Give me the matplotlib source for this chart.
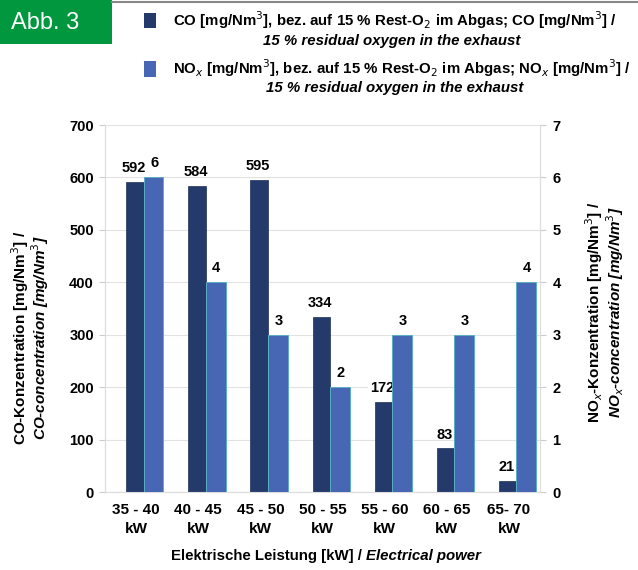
import matplotlib
matplotlib.use("Agg")
import matplotlib.pyplot as plt
from matplotlib.patches import Rectangle
import numpy as np

categories = ["35 - 40\nkW", "40 - 45\nkW", "45 - 50\nkW", "50 - 55\nkW",
              "55 - 60\nkW", "60 - 65\nkW", "65- 70\nkW"]
co_values = [592, 584, 595, 334, 172, 83, 21]
nox_values = [6, 4, 3, 2, 3, 3, 4]
left_ticks = [0, 100, 200, 300, 400, 500, 600, 700]
right_ticks = [0, 1, 2, 3, 4, 5, 6, 7]

DARK = "#243a6b"
LIGHT = "#4767b5"
FONT = ["Liberation Sans", "DejaVu Sans"]
plt.rcParams['font.family'] = FONT

fig = plt.figure(figsize=(6.38, 5.70), dpi=100)
ax = fig.add_axes([105/638, 1-492/570, 435/638, 367/570])
ax2 = ax.twinx()

x = np.arange(len(categories))
ax.bar(x - 0.16, co_values, width=0.28, align='edge', color=DARK,
       edgecolor="#1c2f58", linewidth=0.5, zorder=3)
ax2.bar(x + 0.12, nox_values, width=0.32, align='edge', color=LIGHT,
        edgecolor="#5aaec4", linewidth=0.7, zorder=3)

ax.set_xlim(-0.5, len(categories) - 0.5)
ax.set_ylim(0, 700)
ax2.set_ylim(0, 7)
ax.set_yticks(left_ticks)
ax2.set_yticks(right_ticks)
ax.set_xticks(x)
ax.set_xticklabels(categories, fontsize=11, fontweight='bold', linespacing=1.45)
ax.tick_params(axis='x', length=0, pad=8)
ax.tick_params(axis='y', length=4, color="#cccccc", pad=4, labelsize=10.5)
ax2.tick_params(axis='y', length=4, color="#cccccc", pad=5, labelsize=10.5)
for lbl in ax.get_yticklabels() + ax2.get_yticklabels():
    lbl.set_fontweight('bold')

ax.grid(axis='y', color="#e2e2e2", linewidth=0.8, zorder=0)
ax.set_axisbelow(True)
for a in (ax, ax2):
    a.spines["top"].set_visible(False)
    a.spines["left"].set_color("#dddddd")
    a.spines["right"].set_color("#dddddd")
    a.spines["bottom"].set_color("#dddddd")

# value labels
for i, v in enumerate(co_values):
    kw = {}
    if v == 172:
        kw = dict(bbox=dict(facecolor='white', edgecolor='none', pad=1.5))
    ax.annotate(str(v), (x[i] - 0.04, v), xytext=(0, 5), textcoords='offset points',
                ha='center', va='bottom', fontsize=10.5, fontweight='bold',
                zorder=5, **kw)
for i, v in enumerate(nox_values):
    ax2.annotate(str(v), (x[i] + 0.29, v), xytext=(0, 5), textcoords='offset points',
                 ha='center', va='bottom', fontsize=10.5, fontweight='bold', zorder=5)

# axis titles
fig.text(20/638, 1-338/570, "CO-Konzentration [mg/Nm$^3$] /", rotation=90,
         ha='center', va='center', fontsize=11, fontweight='bold')
fig.text(40/638, 1-338/570, "CO-concentration [mg/Nm$^3$]", rotation=90,
         ha='center', va='center', fontsize=11, fontweight='bold', style='italic')
fig.text(594/638, 1-312/570, "NO$_x$-Konzentration [mg/Nm$^3$] /", rotation=90,
         ha='center', va='center', fontsize=11, fontweight='bold')
fig.text(615/638, 1-312/570, "NO$_x$-concentration [mg/Nm$^3$]", rotation=90,
         ha='center', va='center', fontsize=11, fontweight='bold', style='italic')

fig.text(366/638, 1-556/570, "Elektrische Leistung [kW] / ", ha='right',
         va='center', fontsize=10.8, fontweight='bold')
fig.text(366/638, 1-556/570, "Electrical power", ha='left', va='center',
         fontsize=10.8, fontweight='bold', style='italic')

# header
fig.patches.append(Rectangle((0, 1-44/570), 112/638, 44/570, transform=fig.transFigure,
                             facecolor="#00973f", edgecolor='none'))
fig.lines.append(plt.Line2D([112/638, 1], [1-1.5/570, 1-1.5/570], transform=fig.transFigure,
                            color="#888888", linewidth=1.5))
fig.text(11/638, 1-23/570, "Abb. 3", color='white', fontsize=17, ha='left', va='center')

# legend
fig.patches.append(Rectangle((144/638, 1-28/570), 12/638, 15/570, transform=fig.transFigure,
                             facecolor=DARK, edgecolor='none'))
fig.patches.append(Rectangle((144/638, 1-77/570), 12/638, 16/570, transform=fig.transFigure,
                             facecolor=LIGHT, edgecolor='none'))
fig.text(173/638, 1-20/570, "CO [mg/Nm$^3$], bez. auf 15 % Rest-O$_2$ im Abgas; CO [mg/Nm$^3$] /",
         ha='left', va='center', fontsize=10.8, fontweight='bold')
fig.text(392/638, 1-41/570, "15 % residual oxygen in the exhaust",
         ha='center', va='center', fontsize=10.8, fontweight='bold', style='italic')
fig.text(173/638, 1-68/570, "NO$_x$ [mg/Nm$^3$], bez. auf 15 % Rest-O$_2$ im Abgas; NO$_x$ [mg/Nm$^3$] /",
         ha='left', va='center', fontsize=10.8, fontweight='bold')
fig.text(395/638, 1-88/570, "15 % residual oxygen in the exhaust",
         ha='center', va='center', fontsize=10.8, fontweight='bold', style='italic')

fig.savefig("out.png", dpi=100)
